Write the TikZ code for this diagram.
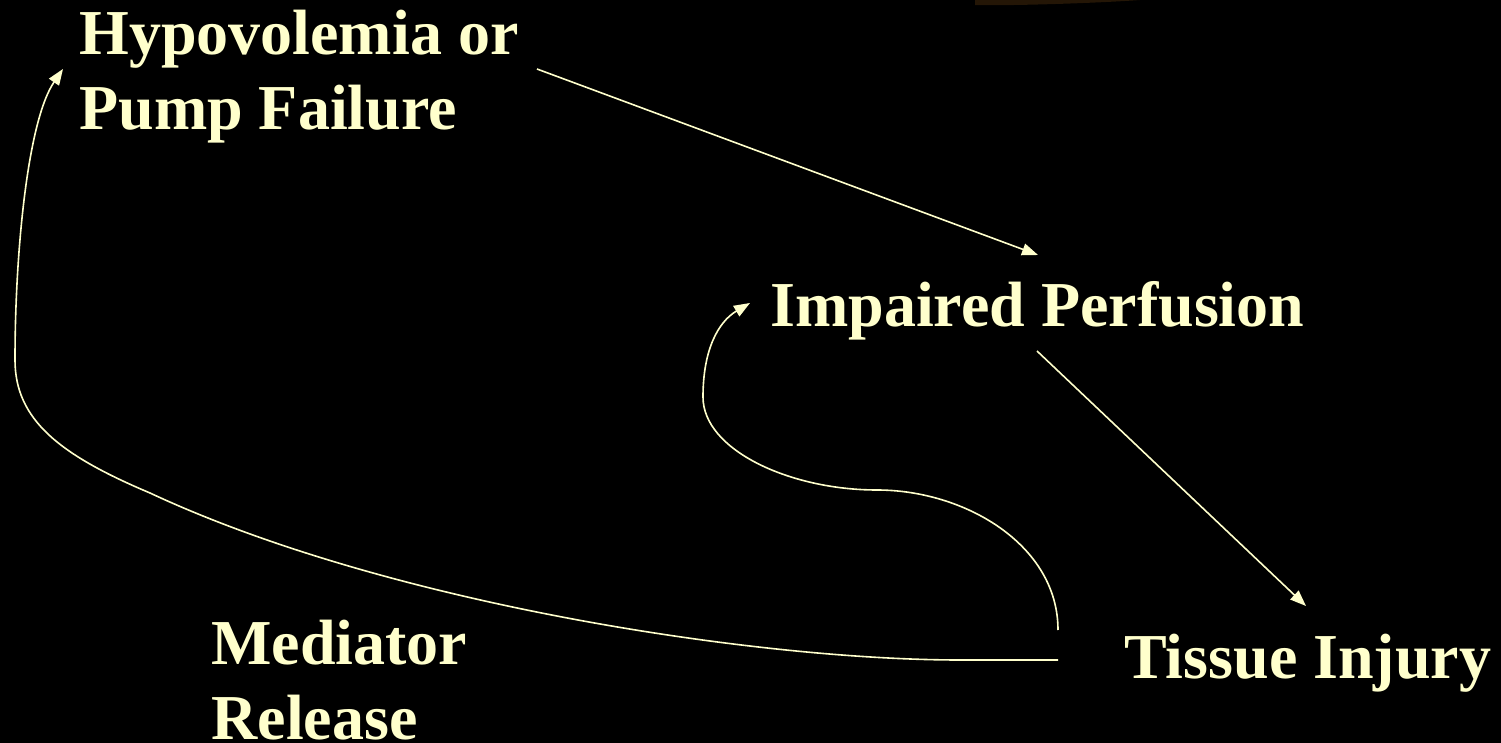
\documentclass[tikz,border=0pt]{standalone}
\usepackage{fontspec}
\setmainfont{Liberation Serif}
\usetikzlibrary{arrows.meta,calc}
\definecolor{txt}{RGB}{255,255,204}
\definecolor{glow}{RGB}{36,22,6}
\tikzset{
  lbl/.style={text=txt, inner sep=0pt, font=\fontsize{32}{37.5}\selectfont\bfseries, align=left},
  conn/.style={draw=txt, line width=0.8pt, -{Triangle[length=8pt,width=6pt]}},
  plain/.style={draw=txt, line width=0.8pt}
}
\begin{document}
\begin{tikzpicture}[x=0.5pt,y=-0.5pt]
\useasboundingbox (0,0) rectangle (1501,743);
\fill[black] (0,0) rectangle (1501,743);
\fill[glow] (975,0) -- (1140,0) .. controls (1100,3) and (1010,6) .. (975,5) -- cycle;

\node[lbl, anchor=north west] (hyp) at (79,10) {Hypovolemia or\\Pump Failure};
\node[lbl, anchor=base west] (imp) at (770,327) {Impaired Perfusion};
\node[lbl, anchor=base west] (tis) at (1124,678) {Tissue Injury};
\node[lbl, anchor=north west] (med) at (211,620) {Mediator\\Release};

% Hypovolemia -> Impaired Perfusion
\draw[conn] ($(hyp.north west)+(458,59)$) -- ($(imp.base west)+(268,-72)$);
% Impaired Perfusion -> Tissue Injury
\draw[conn] ($(imp.base west)+(267,24)$) -- ($(tis.base west)+(182,-72)$);
% Tissue Injury -> Impaired Perfusion (feedback)
\draw[conn] ($(tis.base west)+(-66,-48)$)
  .. controls (1058,545) and (965,490) .. (877,490)
  .. controls (790,490) and (703,450) .. (703,397)
  .. controls (703,350) and (718,322) .. ($(imp.base west)+(-20,-24)$);
% Tissue Injury -> Hypovolemia (mediator release)
\draw[conn] ($(tis.base west)+(-66,-18)$)
  -- (960,660)
  .. controls (760,660) and (390,605) .. (150,493)
  .. controls (60,455) and (15,420) .. (15,360)
  .. controls (15,250) and (28,120) .. ($(hyp.north west)+(-16,59)$);
\end{tikzpicture}
\end{document}
